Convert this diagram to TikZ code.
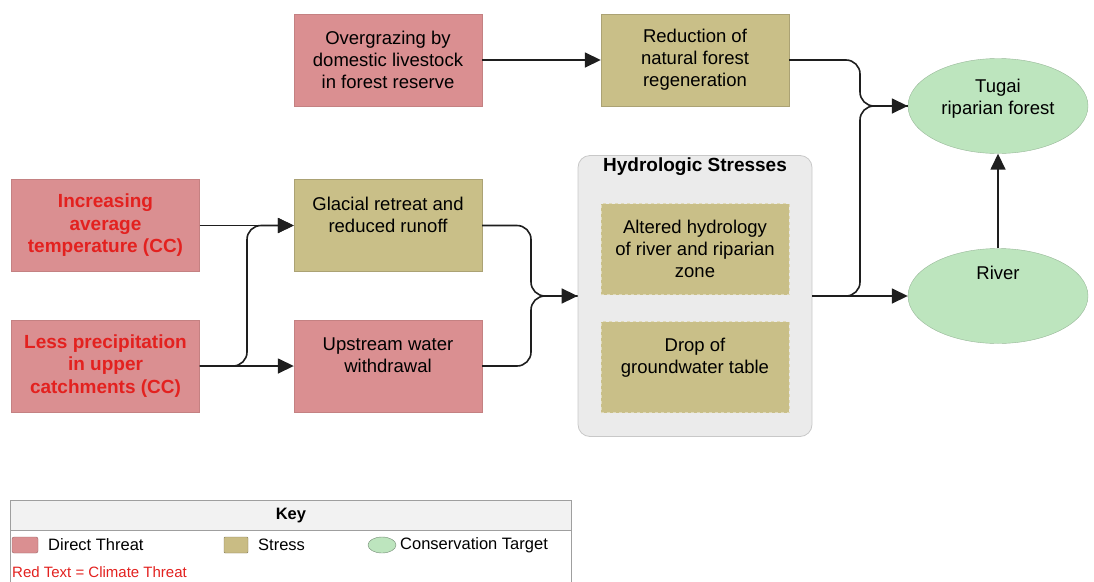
\documentclass[tikz,border=0pt]{standalone}
\usepackage{fontspec}
\setmainfont{Liberation Sans}
\usetikzlibrary{arrows.meta,shapes.geometric}
\definecolor{threatfill}{HTML}{DA8F91}
\definecolor{stressfill}{HTML}{C9BF88}
\definecolor{targetfill}{HTML}{BDE5BE}
\definecolor{groupfill}{HTML}{EBEBEB}
\definecolor{groupline}{HTML}{C8C8C8}
\definecolor{climred}{HTML}{E3211F}
\definecolor{linkcol}{HTML}{1E1E1E}
\tikzset{
  base/.style={font=\fontsize{18.5}{22}\selectfont, align=center, inner sep=0pt},
  threat/.style={base, rectangle, fill=threatfill, draw=threatfill!90!black, line width=0.4pt, minimum width=188pt, minimum height=92pt},
  climate/.style={threat, text=climred, font=\fontsize{19}{22.5}\selectfont\bfseries},
  stressbox/.style={base, rectangle, fill=stressfill, draw=stressfill!85!black, line width=0.4pt, minimum width=188pt, minimum height=92pt},
  innerstress/.style={base, rectangle, fill=stressfill, draw=stressfill!60!white, dashed, line width=0.8pt, minimum width=188pt, minimum height=91pt},
  target/.style={ellipse, fill=targetfill, draw=targetfill!80!black, line width=0.4pt, minimum width=180pt, minimum height=95pt, inner sep=0pt},
  label/.style={base},
  link/.style={draw=linkcol, line width=1.6pt, rounded corners=14pt, -{Triangle[length=16pt,width=15pt]}},
  plainlink/.style={draw=linkcol, line width=1.6pt, rounded corners=14pt},
  keytext/.style={font=\fontsize{16.5}{19}\selectfont, inner sep=0pt, anchor=west}
}
\begin{document}
\begin{tikzpicture}[x=1pt,y=-1pt]
\path[use as bounding box] (0,0) rectangle (1094,581);

% hydrologic stress group
\node[draw=groupline, fill=groupfill, rounded corners=12pt, line width=0.8pt,
      minimum width=234pt, minimum height=281pt, inner sep=0pt] (hydro) at (695,296) {};
\node[base, font=\fontsize{19}{22}\selectfont\bfseries] (hydrotitle) at (695,167) {Hydrologic Stresses};
\node[innerstress] (altered) at (695,249) {Altered hydrology\\of river and riparian\\zone};
\node[innerstress] (drop) at (695,367) {Drop of\\groundwater table\\~};

% threats and stresses
\node[threat] (graze) at (388,60) {Overgrazing by\\domestic livestock\\in forest reserve};
\node[stressbox] (regen) at (695,60) {Reduction of\\natural forest\\regeneration};
\node[climate] (temp) at (105.5,225.5) {Increasing\\average\\temperature (CC)};
\node[climate] (precip) at (105.5,366) {Less precipitation\\in upper\\catchments (CC)};
\node[stressbox] (glacial) at (388,225.5) {Glacial retreat and\\reduced runoff\\~};
\node[threat] (withdraw) at (388,366) {Upstream water\\withdrawal\\~};

% conservation targets
\node[target] (tugai) at (998,106) {};
\node[label] (tugaitext) at (998,99) {Tugai\\riparian forest};
\node[target] (river) at (998,296) {};
\node[label] (rivertext) at (998,273) {River};

% connectors
\coordinate (jleft) at (247,0);
\coordinate (jmid) at (531,0);
\coordinate (jright) at (860,0);
\draw[link] (graze.east) -- (regen.west);
\draw[link] (temp.east |- glacial.west) -- (glacial.west);
\draw[link] (precip.east) -- (withdraw.west);
\draw[link] (precip.east) -- (jleft |- precip.east) -- (jleft |- glacial.west) -- (glacial.west);
\draw[plainlink] (glacial.east) -- (jmid |- glacial.east) -- (jmid |- hydro.west) -- (hydro.west);
\draw[link] (withdraw.east) -- (jmid |- withdraw.east) -- (jmid |- hydro.west) -- (hydro.west);
\draw[plainlink] (regen.east) -- (jright |- regen.east) -- (jright |- tugai.west) -- (tugai.west);
\draw[link] (hydro.east) -- (jright |- hydro.east) -- (jright |- tugai.west) -- (tugai.west);
\draw[link] (hydro.east) -- (river.west);
\draw[link] (river.north) -- (tugai.south);

% key
\node[draw=gray!75, fill=white, line width=0.8pt, minimum width=561pt, minimum height=84pt,
      inner sep=0pt, anchor=north west] (keybox) at (10,500) {};
\node[draw=gray!75, fill=gray!10, line width=0.8pt, minimum width=561pt, minimum height=30pt,
      inner sep=0pt, anchor=north west] (keyhead) at (10,500) {};
\node[font=\fontsize{16.5}{19}\selectfont\bfseries, inner sep=0pt] (keytitle) at (keyhead.center) {Key};
\node[fill=threatfill, draw=threatfill!70!black, rounded corners=2pt, minimum width=26pt, minimum height=16pt, inner sep=0pt] (keythreat) at (25,545) {};
\node[keytext] (keythreattext) at (48,545) {Direct Threat};
\node[fill=stressfill!95!brown, draw=stressfill!65!black, rounded corners=1pt, minimum width=24pt, minimum height=16pt, inner sep=0pt] (keystress) at (236,545) {};
\node[keytext] (keystresstext) at (258,545) {Stress};
\node[ellipse, fill=targetfill, draw=targetfill!60!black, minimum width=28pt, minimum height=16pt, inner sep=0pt] (keytarget) at (382,545) {};
\node[keytext] (keytargettext) at (400,545) {Conservation Target};
\node[keytext, text=climred, font=\fontsize{15}{17}\selectfont] (keyred) at (12,572) {Red Text = Climate Threat};
\end{tikzpicture}
\end{document}
